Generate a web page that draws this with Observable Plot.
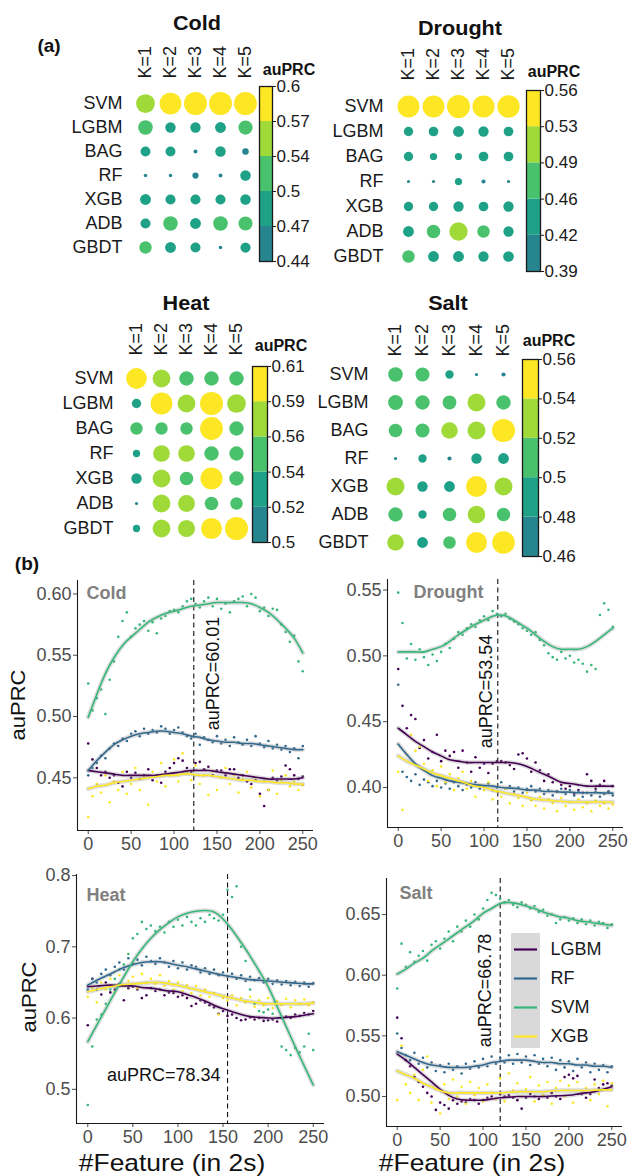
<!DOCTYPE html>
<html><head><meta charset="utf-8">
<script src="https://cdn.jsdelivr.net/npm/d3@7"></script>
<script src="https://cdn.jsdelivr.net/npm/@observablehq/plot@0.6"></script>
<style>
body{margin:0;background:#fff;}
#root{position:relative;width:629px;height:1176px;overflow:hidden;font-family:"Liberation Sans",Arial,Helvetica,sans-serif;}
.lbl{position:absolute;white-space:nowrap;line-height:1;transform:translate(-50%,-50%);}
</style></head><body><div id="root"></div><script>
// ---------------- DATA ----------------
const models = ["SVM","LGBM","BAG","RF","XGB","ADB","GBDT"];
const kLabels = ["K=1","K=2","K=3","K=4","K=5"];
const panelNames = ["Cold","Drought","Heat","Salt"];

const coldK = [
 [0.566,0.590,0.600,0.600,0.600],
 [0.532,0.499,0.499,0.503,0.530],
 [0.495,0.495,0.448,0.500,0.468],
 [0.444,0.444,0.466,0.447,0.500],
 [0.503,0.497,0.497,0.497,0.500],
 [0.496,0.532,0.503,0.533,0.528],
 [0.515,0.503,0.496,0.445,0.498]];
const droughtK = [
 [0.551,0.551,0.560,0.553,0.554],
 [0.444,0.447,0.457,0.452,0.447],
 [0.444,0.426,0.426,0.447,0.447],
 [0.391,0.391,0.426,0.400,0.392],
 [0.444,0.444,0.452,0.447,0.452],
 [0.457,0.480,0.520,0.470,0.452],
 [0.470,0.456,0.457,0.452,0.455]];
const heatK = [
 [0.596,0.580,0.562,0.562,0.562],
 [0.534,0.602,0.580,0.608,0.585],
 [0.551,0.551,0.551,0.607,0.562],
 [0.523,0.574,0.574,0.562,0.561],
 [0.540,0.580,0.557,0.603,0.562],
 [0.501,0.580,0.575,0.557,0.551],
 [0.523,0.580,0.576,0.597,0.608]];
const saltK = [
 [0.518,0.515,0.487,0.461,0.466],
 [0.519,0.517,0.514,0.535,0.517],
 [0.513,0.515,0.528,0.535,0.560],
 [0.461,0.487,0.466,0.497,0.499],
 [0.535,0.497,0.499,0.550,0.535],
 [0.517,0.487,0.513,0.533,0.512],
 [0.528,0.499,0.508,0.550,0.558]];

const coldBreaks = [0.44,0.472,0.504,0.536,0.568,0.60];
const coldTickLabels = ["0.44","0.47","0.5","0.54","0.57","0.6"];
const droughtBreaks = [0.39,0.424,0.458,0.492,0.526,0.56];
const droughtTickLabels = ["0.39","0.42","0.46","0.49","0.53","0.56"];
const heatBreaks = [0.5,0.5216,0.5432,0.5648,0.5864,0.608];
const heatTickLabels = ["0.5","0.52","0.54","0.56","0.59","0.61"];
const saltBreaks = [0.46,0.48,0.50,0.52,0.54,0.56];
const saltTickLabels = ["0.46","0.48","0.5","0.52","0.54","0.56"];

const series = ["LGBM","RF","SVM","XGB"];
const featureX = [0,5,10,15,20,25,30,35,40,45,50,55,60,65,70,75,80,85,90,95,100,105,110,115,120,125,130,135,140,145,150,155,160,165,170,175,180,185,190,195,200,205,210,215,220,225,230,235,240,245,250];
const smoothX = [0,10,20,30,40,50,60,70,80,90,100,110,120,130,140,150,160,170,180,190,200,210,220,230,240,250];
const xTicks = [0,50,100,150,200,250];

const bestFeature = [123,116,155,120];
const bestLabel = ["auPRC=60.01","auPRC=53.54","auPRC=78.34","auPRC=66.78"];

// Cold
const coldLGBM = [0.478,0.465,0.458,0.452,0.455,0.450,0.452,0.446,0.443,0.455,0.450,0.454,0.449,0.452,0.457,0.448,0.452,0.446,0.455,0.458,0.462,0.466,0.464,0.458,0.455,0.462,0.463,0.457,0.459,0.452,0.456,0.456,0.452,0.457,0.457,0.450,0.452,0.447,0.445,0.448,0.437,0.427,0.440,0.450,0.448,0.451,0.460,0.457,0.452,0.449,0.451];
const coldRF = [0.452,0.458,0.462,0.468,0.466,0.474,0.478,0.476,0.482,0.480,0.486,0.488,0.484,0.490,0.486,0.489,0.487,0.492,0.490,0.486,0.489,0.491,0.487,0.484,0.482,0.486,0.477,0.483,0.481,0.479,0.484,0.478,0.481,0.476,0.483,0.479,0.477,0.481,0.476,0.484,0.478,0.475,0.480,0.474,0.477,0.473,0.476,0.471,0.474,0.466,0.476];
const coldSVM = [0.527,0.505,0.515,0.522,0.502,0.530,0.545,0.565,0.578,0.585,0.565,0.572,0.575,0.578,0.570,0.577,0.568,0.580,0.582,0.586,0.587,0.585,0.590,0.594,0.596,0.592,0.589,0.594,0.597,0.590,0.596,0.588,0.592,0.585,0.594,0.596,0.598,0.590,0.600,0.597,0.586,0.589,0.582,0.588,0.587,0.575,0.569,0.561,0.566,0.545,0.537];
const coldXGB = [0.418,0.435,0.445,0.438,0.452,0.430,0.447,0.440,0.455,0.437,0.445,0.458,0.440,0.450,0.428,0.455,0.447,0.462,0.443,0.452,0.465,0.447,0.470,0.455,0.448,0.460,0.445,0.452,0.436,0.455,0.440,0.450,0.458,0.445,0.452,0.438,0.449,0.455,0.442,0.450,0.435,0.447,0.440,0.456,0.437,0.448,0.452,0.443,0.447,0.440,0.444];
const coldLGBMfit = [0.456,0.455,0.454,0.453,0.452,0.452,0.452,0.452,0.452,0.453,0.454,0.455,0.456,0.456,0.456,0.455,0.454,0.453,0.452,0.451,0.450,0.449,0.449,0.449,0.449,0.450];
const coldRFfit = [0.456,0.464,0.471,0.477,0.481,0.484,0.486,0.487,0.488,0.488,0.487,0.486,0.484,0.483,0.481,0.480,0.479,0.479,0.478,0.478,0.477,0.476,0.475,0.474,0.473,0.473];
const coldSVMfit = [0.4995,0.518,0.535,0.548,0.558,0.565,0.571,0.577,0.581,0.584,0.586,0.588,0.590,0.591,0.592,0.593,0.593,0.593,0.593,0.592,0.589,0.585,0.579,0.572,0.564,0.552];
const coldXGBfit = [0.441,0.443,0.444,0.446,0.447,0.448,0.449,0.450,0.451,0.452,0.452,0.453,0.453,0.452,0.452,0.451,0.450,0.449,0.448,0.448,0.447,0.447,0.446,0.446,0.445,0.445];

// Drought
const droughtLGBM = [0.490,0.462,0.445,0.455,0.452,0.430,0.436,0.422,0.427,0.440,0.420,0.428,0.424,0.427,0.415,0.428,0.419,0.412,0.423,0.415,0.418,0.411,0.418,0.420,0.420,0.419,0.417,0.414,0.425,0.426,0.422,0.412,0.419,0.413,0.405,0.410,0.404,0.397,0.402,0.399,0.401,0.395,0.398,0.396,0.410,0.405,0.399,0.402,0.405,0.397,0.401];
const droughtRF = [0.478,0.412,0.408,0.405,0.410,0.402,0.406,0.404,0.401,0.405,0.400,0.403,0.399,0.404,0.401,0.398,0.402,0.400,0.404,0.399,0.401,0.403,0.398,0.400,0.404,0.399,0.401,0.397,0.400,0.396,0.399,0.401,0.397,0.399,0.395,0.398,0.394,0.397,0.399,0.395,0.398,0.394,0.397,0.393,0.396,0.394,0.397,0.393,0.395,0.397,0.394];
const droughtSVM = [0.548,0.525,0.498,0.509,0.497,0.505,0.499,0.493,0.501,0.496,0.503,0.509,0.506,0.513,0.518,0.516,0.521,0.524,0.522,0.527,0.530,0.527,0.534,0.532,0.530,0.532,0.528,0.526,0.524,0.521,0.519,0.516,0.518,0.512,0.508,0.502,0.499,0.497,0.503,0.498,0.500,0.495,0.497,0.494,0.488,0.493,0.490,0.531,0.540,0.535,0.522];
const droughtXGB = [0.412,0.383,0.425,0.440,0.428,0.431,0.418,0.405,0.413,0.401,0.416,0.404,0.410,0.398,0.407,0.412,0.399,0.405,0.393,0.402,0.398,0.404,0.391,0.397,0.393,0.399,0.388,0.395,0.392,0.386,0.396,0.390,0.386,0.393,0.384,0.391,0.388,0.382,0.392,0.386,0.389,0.383,0.391,0.385,0.388,0.382,0.390,0.386,0.388,0.384,0.387];
const droughtLGBMfit = [0.445,0.440,0.435,0.431,0.427,0.424,0.421,0.420,0.419,0.419,0.419,0.419,0.419,0.419,0.418,0.416,0.413,0.410,0.407,0.404,0.403,0.402,0.401,0.401,0.401,0.401];
const droughtRFfit = [0.433,0.425,0.418,0.413,0.409,0.407,0.405,0.404,0.403,0.402,0.4015,0.401,0.400,0.3995,0.399,0.398,0.398,0.397,0.397,0.3965,0.3965,0.396,0.396,0.396,0.3958,0.3957];
const droughtSVMfit = [0.503,0.503,0.503,0.503,0.505,0.507,0.511,0.516,0.520,0.524,0.527,0.530,0.531,0.529,0.525,0.521,0.516,0.511,0.507,0.505,0.505,0.505,0.507,0.511,0.516,0.521];
const droughtXGBfit = [0.424,0.420,0.417,0.414,0.411,0.409,0.407,0.405,0.403,0.401,0.400,0.398,0.3965,0.395,0.394,0.3925,0.391,0.3905,0.390,0.3895,0.389,0.389,0.389,0.389,0.389,0.389];

// Heat
const heatLGBM = [0.590,0.655,0.640,0.633,0.650,0.636,0.640,0.648,0.625,0.642,0.644,0.640,0.628,0.632,0.642,0.638,0.640,0.632,0.636,0.635,0.630,0.632,0.628,0.617,0.620,0.625,0.622,0.618,0.615,0.606,0.610,0.603,0.605,0.600,0.597,0.598,0.601,0.598,0.600,0.596,0.597,0.598,0.595,0.600,0.602,0.600,0.605,0.603,0.607,0.605,0.610];
const heatRF = [0.640,0.655,0.650,0.662,0.668,0.660,0.672,0.678,0.668,0.684,0.676,0.682,0.674,0.686,0.680,0.676,0.684,0.678,0.672,0.680,0.670,0.678,0.668,0.674,0.672,0.664,0.670,0.662,0.668,0.660,0.664,0.658,0.662,0.655,0.660,0.652,0.658,0.653,0.656,0.650,0.655,0.648,0.653,0.647,0.652,0.646,0.651,0.645,0.650,0.644,0.649];
const heatSVM = [0.478,0.560,0.598,0.605,0.620,0.640,0.655,0.668,0.675,0.690,0.712,0.718,0.735,0.725,0.730,0.722,0.728,0.720,0.735,0.728,0.738,0.730,0.742,0.735,0.730,0.740,0.735,0.745,0.740,0.737,0.745,0.780,0.770,0.785,0.700,0.680,0.640,0.620,0.610,0.608,0.612,0.606,0.600,0.560,0.555,0.548,0.558,0.552,0.560,0.578,0.555];
const heatXGB = [0.630,0.642,0.622,0.650,0.640,0.655,0.636,0.660,0.645,0.652,0.658,0.642,0.662,0.650,0.655,0.648,0.660,0.645,0.652,0.640,0.650,0.638,0.646,0.635,0.645,0.632,0.640,0.630,0.635,0.605,0.628,0.625,0.632,0.618,0.628,0.622,0.630,0.616,0.625,0.618,0.628,0.614,0.624,0.618,0.627,0.615,0.625,0.620,0.626,0.618,0.622];
const heatLGBMfit = [0.644,0.645,0.646,0.646,0.645,0.645,0.643,0.642,0.640,0.638,0.637,0.633,0.629,0.624,0.618,0.613,0.609,0.605,0.602,0.601,0.600,0.600,0.601,0.602,0.604,0.606];
const heatRFfit = [0.646,0.653,0.659,0.665,0.671,0.675,0.678,0.679,0.679,0.677,0.674,0.672,0.669,0.666,0.663,0.660,0.658,0.656,0.654,0.653,0.652,0.651,0.650,0.649,0.648,0.648];
const heatSVMfit = [0.567,0.590,0.613,0.636,0.658,0.679,0.697,0.712,0.724,0.734,0.742,0.747,0.750,0.751,0.749,0.739,0.724,0.706,0.687,0.666,0.644,0.616,0.588,0.560,0.533,0.506];
const heatXGBfit = [0.637,0.640,0.643,0.645,0.647,0.648,0.649,0.650,0.650,0.648,0.646,0.643,0.640,0.637,0.634,0.631,0.628,0.625,0.623,0.621,0.620,0.620,0.620,0.620,0.620,0.621];

// Salt
const saltLGBM = [0.565,0.548,0.530,0.525,0.516,0.512,0.508,0.503,0.500,0.489,0.495,0.493,0.490,0.497,0.494,0.496,0.495,0.498,0.497,0.494,0.497,0.499,0.500,0.498,0.502,0.500,0.501,0.499,0.497,0.490,0.499,0.502,0.500,0.498,0.501,0.499,0.503,0.500,0.498,0.516,0.518,0.515,0.517,0.502,0.499,0.502,0.514,0.507,0.510,0.511,0.509];
const saltRF = [0.552,0.540,0.534,0.530,0.536,0.527,0.532,0.524,0.528,0.521,0.526,0.520,0.527,0.522,0.525,0.519,0.527,0.523,0.529,0.524,0.531,0.525,0.533,0.527,0.532,0.528,0.534,0.527,0.535,0.528,0.533,0.526,0.534,0.527,0.531,0.525,0.532,0.522,0.530,0.524,0.529,0.521,0.531,0.524,0.528,0.520,0.527,0.522,0.526,0.520,0.525];
const saltSVM = [0.589,0.626,0.607,0.619,0.611,0.616,0.620,0.612,0.625,0.628,0.622,0.630,0.636,0.628,0.640,0.636,0.645,0.640,0.650,0.646,0.655,0.662,0.668,0.666,0.663,0.660,0.662,0.658,0.656,0.660,0.658,0.655,0.657,0.652,0.654,0.649,0.650,0.643,0.646,0.648,0.645,0.647,0.643,0.646,0.642,0.645,0.641,0.644,0.643,0.639,0.642];
const saltXGB = [0.497,0.542,0.510,0.503,0.518,0.497,0.522,0.533,0.495,0.506,0.486,0.510,0.498,0.514,0.500,0.508,0.494,0.512,0.501,0.507,0.496,0.510,0.503,0.498,0.515,0.496,0.519,0.505,0.511,0.500,0.506,0.516,0.496,0.509,0.501,0.512,0.494,0.507,0.513,0.500,0.509,0.495,0.512,0.503,0.507,0.497,0.510,0.502,0.513,0.492,0.511];
const saltLGBMfit = [0.535,0.530,0.524,0.518,0.512,0.506,0.501,0.498,0.497,0.497,0.497,0.498,0.499,0.4995,0.500,0.500,0.500,0.500,0.5005,0.5007,0.501,0.502,0.503,0.504,0.506,0.508];
const saltRFfit = [0.537,0.534,0.531,0.528,0.526,0.525,0.524,0.524,0.524,0.525,0.526,0.528,0.529,0.530,0.530,0.530,0.529,0.528,0.528,0.527,0.527,0.526,0.526,0.525,0.525,0.524];
const saltSVMfit = [0.601,0.605,0.610,0.614,0.620,0.625,0.630,0.635,0.640,0.645,0.651,0.655,0.659,0.660,0.659,0.657,0.655,0.652,0.650,0.648,0.647,0.645,0.644,0.643,0.642,0.641];
const saltXGBfit = [0.521,0.518,0.515,0.511,0.508,0.505,0.503,0.503,0.503,0.503,0.503,0.503,0.503,0.5035,0.504,0.504,0.504,0.504,0.5045,0.505,0.505,0.505,0.505,0.5053,0.5055,0.5055];

// ---------------- STYLE ----------------
const FONT = '"Liberation Sans", Arial, Helvetica, sans-serif';
const binColors = ["#26858E","#1FA187","#4AC16D","#A0DA39","#FDE725"];
const seriesColors = ["#440154","#31688E","#35B779","#FDE725"];
const root = document.getElementById("root");

function place(svg, left, top){ svg.style.position="absolute"; svg.style.left=left+"px"; svg.style.top=top+"px"; root.appendChild(svg); }
function label(text, x, y, css, rot, sx){
  const d=document.createElement("div"); d.className="lbl"; d.textContent=text;
  d.style.left=x+"px"; d.style.top=y+"px"; Object.assign(d.style, css||{});
  d.style.transform=`translate(-50%,-50%)` + (rot ? ` rotate(${rot}deg)` : "") + (sx ? ` scaleX(${sx})` : "");
  root.appendChild(d);
}

function dotPanel(o){
  const data=[];
  models.forEach((m,i)=>kLabels.forEach((k,j)=>data.push({m,k,v:o.vals[i][j]})));
  const br=o.breaks;
  const svg=Plot.plot({
    width:o.w, height:o.h,
    marginLeft:o.x0-o.left, marginRight:o.left+o.w-o.x1, marginTop:o.y0-o.top, marginBottom:o.top+o.h-o.y1,
    style:{fontFamily:FONT, fontSize:"18px", color:"#1a1a1a", background:"transparent", overflow:"visible"},
    x:{type:"point", domain:kLabels, padding:0, axis:null},
    y:{type:"point", domain:models, padding:0, axis:null},
    r:{type:"linear", domain:[br[0],br[5]], range:[1.5,11.5]},
    color:{type:"threshold", domain:br.slice(1,5), range:binColors},
    marks:[
      Plot.axisX({anchor:"top", tickSize:0, tickPadding:o.colGap, tickRotate:-90, label:null, fontSize:18}),
      Plot.axisY({anchor:"left", tickSize:0, tickPadding:o.rowGap, label:null, fontSize:18}),
      Plot.dot(data,{x:"k", y:"m", r:"v", fill:"v"})
    ]
  });
  place(svg,o.left,o.top);
  // color bar
  const b=o.bar, bins=[0,1,2,3,4].map(i=>({y1:br[i], y2:br[i+1]}));
  const cb=Plot.plot({
    width:b.x1-b.x0+9+60, height:b.y1-b.y0+22,
    marginLeft:9, marginRight:60, marginTop:10, marginBottom:12,
    style:{fontFamily:FONT, fontSize:"17px", color:"#1a1a1a", background:"transparent", overflow:"visible"},
    x:{domain:[0,1], axis:null},
    y:{domain:[br[0],br[5]], axis:null},
    color:{type:"threshold", domain:br.slice(1,5), range:binColors},
    marks:[
      Plot.rect(bins,{x1:0, x2:1, y1:"y1", y2:"y2", fill:d=>(d.y1+d.y2)/2}),
      Plot.frame({stroke:"#1a1a1a", strokeWidth:1.3}),
      Plot.axisY({anchor:"right", ticks:br, tickFormat:d=>o.tickLabels[br.indexOf(d)], tickSize:3, tickPadding:1, label:null, fontSize:17})
    ]
  });
  place(cb,b.x0-9,b.y0-10);
  label(o.name, o.tx, o.ty, {fontWeight:"bold", fontSize:"20px", color:"#111"}, 0, 1.08);
  label("auPRC", o.lx, o.ly, {fontWeight:"bold", fontSize:"16px", color:"#111"});
}

dotPanel({name:"Cold", vals:coldK, breaks:coldBreaks, tickLabels:coldTickLabels,
  left:0, top:0, w:256, h:262, x0:144, x1:245, y0:100, y1:249, colGap:22, rowGap:22,
  bar:{x0:259,x1:272,y0:86,y1:261}, tx:197, ty:23, lx:289, ly:70});
dotPanel({name:"Drought", vals:droughtK, breaks:droughtBreaks, tickLabels:droughtTickLabels,
  left:300, top:0, w:222, h:272, x0:407, x1:509, y0:104, y1:257, colGap:24, rowGap:24,
  bar:{x0:526,x1:540,y0:90,y1:271}, tx:460, ty:28, lx:554, ly:72});
dotPanel({name:"Heat", vals:heatK, breaks:heatBreaks, tickLabels:heatTickLabels,
  left:0, top:280, w:248, h:265, x0:135, x1:237, y0:377, y1:529, colGap:22, rowGap:22,
  bar:{x0:252,x1:267,y0:366,y1:542}, tx:186, ty:303, lx:281, ly:346});
dotPanel({name:"Salt", vals:saltK, breaks:saltBreaks, tickLabels:saltTickLabels,
  left:300, top:280, w:218, h:282, x0:393, x1:504, y0:374, y1:542, colGap:18, rowGap:25,
  bar:{x0:522,x1:538,y0:359,y1:556}, tx:448, ty:303, lx:549, ly:341});

function curvePanel(o){
  const pts=[], fit=[];
  series.forEach((s,j)=>{
    o.pts[j].forEach((v,i)=>pts.push({x:featureX[i], y:v, s}));
    o.fit[j].forEach((v,i)=>fit.push({x:smoothX[i], y:v, s}));
  });
  const svg=Plot.plot({
    width:o.w, height:o.h, marginLeft:o.ml, marginRight:o.mr, marginTop:o.mt, marginBottom:o.mb,
    style:{fontFamily:FONT, fontSize:"18px", color:"#4d4d4d", background:"transparent", overflow:"visible"},
    x:{domain:[-12.5,262.5], axis:null, label:null},
    y:{domain:o.yDomain, axis:null, label:null},
    color:{domain:series, range:seriesColors},
    marks:[
      Plot.axisX({ticks:xTicks, tickSize:4, tickPadding:3, label:null, fontSize:18}),
      Plot.axisY({ticks:o.yTicks, tickFormat:o.fmt, tickSize:4, tickPadding:2, label:null, fontSize:18}),
      Plot.ruleX([o.best],{stroke:"#111", strokeDasharray:"5,3.5", strokeWidth:1.1}),
      Plot.dot(pts,{x:"x", y:"y", fill:"s", r:1.3}),
      Plot.line(fit,{x:"x", y:"y", z:"s", stroke:"#9a9a9a", strokeOpacity:0.35, strokeWidth:4.5, curve:"natural"}),
      Plot.line(fit,{x:"x", y:"y", stroke:"s", strokeWidth:1.6, curve:"natural"}),
      Plot.ruleX([-12.5],{stroke:"#1a1a1a", strokeWidth:1.1}),
      Plot.ruleY([o.yDomain[0]],{stroke:"#1a1a1a", strokeWidth:1.1}),
      Plot.text([o.name],{frameAnchor:"top-left", textAnchor:"start", lineAnchor:"middle", dx:o.ndx, dy:o.ndy, fontWeight:"bold", fill:"#808080", fontSize:18}),
      Plot.text([o.best],{x:d=>d, text:()=>o.annot, frameAnchor:"middle", rotate:o.rot, textAnchor:o.ta, lineAnchor:"middle", dx:o.adx, dy:o.ady, fill:"#111", fontSize:18})
    ]
  });
  place(svg,o.left,o.top);
}

const f2 = d3.format(".2f"), f1 = d3.format(".1f");
curvePanel({name:panelNames[0], best:bestFeature[0], annot:bestLabel[0], pts:[coldLGBM,coldRF,coldSVM,coldXGB], fit:[coldLGBMfit,coldRFfit,coldSVMfit,coldXGBfit],
  left:0, top:560, w:320, h:300, ml:77, mr:7, mt:20, mb:30, yDomain:[0.407,0.611], yTicks:[0.45,0.50,0.55,0.60], fmt:f2,
  ndx:9, ndy:13, rot:-90, ta:"middle", adx:19, ady:-32});
curvePanel({name:panelNames[1], best:bestFeature[1], annot:bestLabel[1], pts:[droughtLGBM,droughtRF,droughtSVM,droughtXGB], fit:[droughtLGBMfit,droughtRFfit,droughtSVMfit,droughtXGBfit],
  left:310, top:560, w:319, h:297, ml:77, mr:6, mt:19, mb:30, yDomain:[0.3696,0.558], yTicks:[0.40,0.45,0.50,0.55], fmt:f2,
  ndx:26, ndy:13, rot:-90, ta:"middle", adx:-12, ady:-12});
curvePanel({name:panelNames[2], best:bestFeature[2], annot:bestLabel[2], pts:[heatLGBM,heatRF,heatSVM,heatXGB], fit:[heatLGBMfit,heatRFfit,heatSVMfit,heatXGBfit],
  left:0, top:854, w:330, h:299, ml:76, mr:6, mt:20, mb:30, yDomain:[0.452,0.8015], yTicks:[0.5,0.6,0.7,0.8], fmt:f1,
  ndx:10, ndy:21, rot:0, ta:"end", adx:-7, ady:76});
curvePanel({name:panelNames[3], best:bestFeature[3], annot:bestLabel[3], pts:[saltLGBM,saltRF,saltSVM,saltXGB], fit:[saltLGBMfit,saltRFfit,saltSVMfit,saltXGBfit],
  left:310, top:854, w:319, h:302, ml:76, mr:7, mt:24, mb:30, yDomain:[0.4753,0.6797], yTicks:[0.50,0.55,0.60,0.65], fmt:f2,
  ndx:13, ndy:15, rot:-90, ta:"middle", adx:-15, ady:-12});

// legend (Salt panel)
const keyBg=document.createElement("div");
Object.assign(keyBg.style,{position:"absolute", left:"511px", top:"933px", width:"29px", height:"115px", background:"#d9d9d9"});
root.appendChild(keyBg);
const leg=Plot.plot({
  width:110, height:115, marginLeft:0, marginRight:0, marginTop:16, marginBottom:12,
  style:{fontFamily:FONT, fontSize:"18px", color:"#1a1a1a", background:"transparent", overflow:"visible"},
  x:{domain:[0,110], range:[0,110], axis:null},
  y:{type:"point", domain:series, padding:0, axis:null},
  color:{domain:series, range:seriesColors},
  marks:[
    Plot.ruleY(series,{y:d=>d, x1:9, x2:32, stroke:d=>d, strokeWidth:2.2}),
    Plot.text(series,{y:d=>d, x:45, text:d=>d, textAnchor:"start", fill:"#1a1a1a", fontSize:18})
  ]
});
place(leg,505,933);

// texts
label("(a)", 49, 45, {fontWeight:"bold", fontSize:"19px", color:"#111"});
label("(b)", 27, 563, {fontWeight:"bold", fontSize:"19px", color:"#111"});
label("auPRC", 18, 705, {fontSize:"20px", color:"#111"}, -90, 1.1);
label("auPRC", 29, 997, {fontSize:"20px", color:"#111"}, -90, 1.1);
label("#Feature (in 2s)", 172, 1163, {fontSize:"24px", color:"#111"}, 0, 1.1);
label("#Feature (in 2s)", 472, 1163, {fontSize:"24px", color:"#111"}, 0, 1.1);
</script></body></html>
